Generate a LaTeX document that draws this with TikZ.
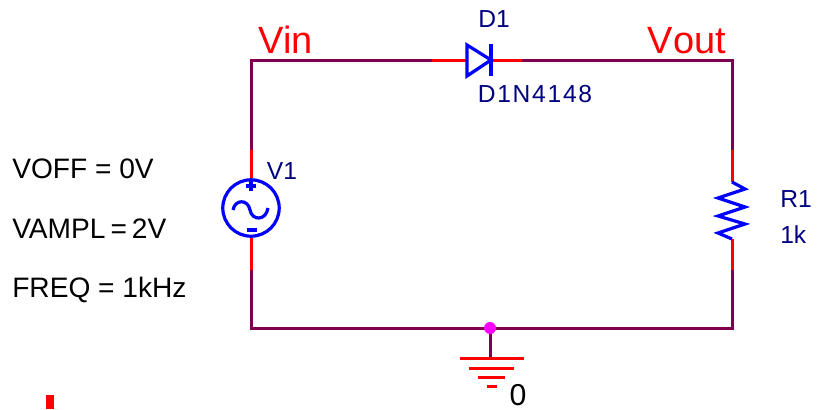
\documentclass[tikz,border=0pt]{standalone}
\usepackage{fontspec}
\setmainfont{Liberation Sans}
\definecolor{wirecol}{RGB}{128,0,80}
\definecolor{partcol}{RGB}{0,0,255}
\definecolor{labelcol}{RGB}{0,0,128}
\definecolor{pincol}{RGB}{255,0,0}
\definecolor{dotcol}{RGB}{255,0,255}
\tikzset{
  wire/.style={line width=0.075cm,wirecol},
  pin/.style={line width=0.075cm,pincol},
  part/.style={line width=0.08cm,partcol},
  netlabel/.style={inner sep=0pt,anchor=base,text=pincol,font=\fontsize{27}{29}\selectfont},
  partlabel/.style={inner sep=0pt,anchor=base,text=labelcol,font=\fontsize{17.5}{20}\selectfont},
  paramlabel/.style={inner sep=0pt,anchor=base west,text=black,font=\fontsize{20}{22}\selectfont},
}
\begin{document}
\begin{tikzpicture}[x=0.025cm,y=-0.025cm]
  \useasboundingbox (0,0) rectangle (817,409);
  % corners of the loop
  \coordinate (tl) at (251,60);
  \coordinate (tr) at (732,60);
  \coordinate (bl) at (251,328);
  \coordinate (br) at (732,328);
  \coordinate (gnd) at (490,328);
  % pin ends
  \coordinate (d1a) at (432,60);
  \coordinate (d1an) at (467,60);
  \coordinate (d1ca) at (491,60);
  \coordinate (d1c) at (522,60);
  \coordinate (v1p) at (251,150);
  \coordinate (v1m) at (251,270);
  \coordinate (r1p) at (732,150);
  \coordinate (r1pin) at (732,182);
  \coordinate (r1min) at (732,239);
  \coordinate (r1m) at (732,270);
  \coordinate (gndbar) at (490,358);

  \node[circle,draw=partcol,line width=0.08cm,minimum size=1.41cm,inner sep=0pt] (v1) at (251,208) {};

  \draw[wire] (d1a) -- (tl) -- (v1p);
  \draw[wire] (v1m) -- (bl) -- (br) -- (r1m);
  \draw[wire] (r1p) -- (tr) -- (d1c);
  \draw[wire] (gnd) -- (gndbar);
%%%
  \draw[pin] (d1a) -- (d1an);
  \draw[pin] (d1ca) -- (d1c);
  \draw[pin] (v1p) -- (v1.north);
  \draw[pin] (v1.south) -- (v1m);
  \draw[pin] (r1p) -- (r1pin);
  \draw[pin] (r1min) -- (r1m);
%%%
  \draw[part] (467,45) -- (491,60) -- (467,76) -- cycle;
  \draw[part] (491,44) -- (491,76);
  \draw[part] (r1pin) -- (745,189) -- (718,198) -- (745,207) -- (718,216) -- (745,224) -- (718,233) -- (r1min);
%%%
  \draw[part] (233,210) .. controls (235,199) and (248,199) .. (250,210)
    .. controls (252,221) and (266,221) .. (268,208);
  \draw[part] (246,186) -- (256,186);
  \draw[part] (251,181) -- (251,191);
  \draw[part] (247,230) -- (257,230);
%%%
  \draw[pin] (460,358) -- (524,358);
  \draw[pin] (469,368) -- (514,368);
  \draw[pin] (478,377) -- (505,377);
  \draw[pin] (487,386) -- (497,386);
  \fill[dotcol] (gnd) circle (6);
  \fill[pincol] (46,395) rectangle (54,409);
%%%
  \node[netlabel] (vin) at (286,53) {Vin};
  \node[netlabel] (vout) at (687,53) {V\kern0pt out};
  \node[partlabel] (d1name) at (494,27) {D1};
  \node[partlabel] (d1value) at (535,102) {\addfontfeature{LetterSpace=7}D1N4148};
  \node[partlabel] (v1name) at (282,179) {V1};
  \node[partlabel,anchor=base west] (r1name) at (780,207) {R1};
  \node[partlabel,anchor=base west] (r1value) at (780,243) {1k};
  \node[paramlabel] (voff) at (12,178) {VOFF = 0V};
  \node[paramlabel] (vampl) at (12,238) {VAMPL\hspace{-2pt} = \hspace{-2pt}2V};
  \node[paramlabel] (freq) at (12,297) {FREQ = 1kHz};
  \node[inner sep=0pt,anchor=base,text=black,font=\fontsize{21.5}{23}\selectfont] (gndname) at (518,405) {0};
\end{tikzpicture}
\end{document}
